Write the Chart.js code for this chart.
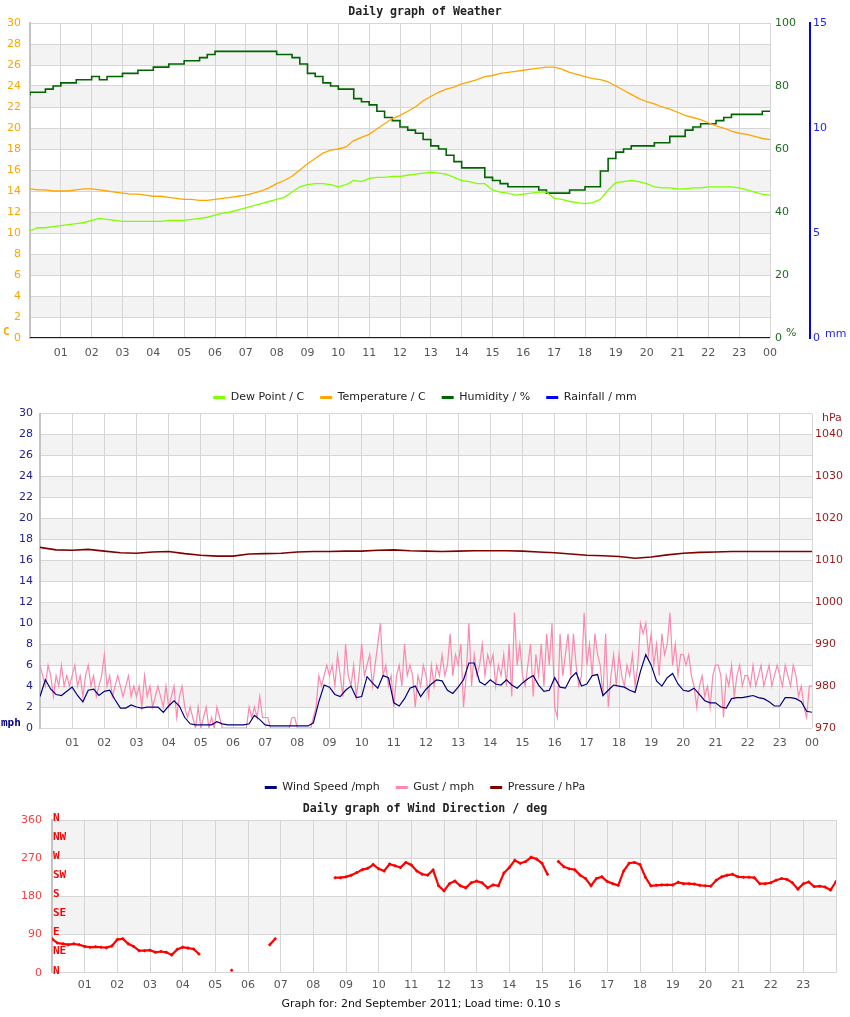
<!DOCTYPE html>
<html>
<head>
<meta charset="utf-8">
<script src="https://cdn.jsdelivr.net/npm/chart.js@4.4.0/dist/chart.umd.min.js"></script>
<style>
  body { margin: 0; background: #fff; }
  #wrap { position: relative; width: 850px; height: 1017px; overflow: hidden; }
  canvas { position: absolute; left: 0; }
</style>
</head>
<body>
<div id="wrap">
  <canvas id="weather" width="850" height="422" style="top:0px"></canvas>
  <canvas id="wind" width="850" height="412" style="top:400px"></canvas>
  <canvas id="dir" width="850" height="222" style="top:795px"></canvas>
</div>
<script>
// samples every 15 minutes, 00:00 .. 24:00
const weatherStep = 0.25;
const temperature = [
  14.2, 14.1, 14.1, 14.0, 14.0, 14.0, 14.1, 14.2, 14.2, 14.1, 14.0, 13.9,
  13.8, 13.7, 13.7, 13.6, 13.5, 13.5, 13.4, 13.3, 13.2, 13.2, 13.1, 13.1,
  13.2, 13.3, 13.4, 13.5, 13.6, 13.8, 14.0, 14.3, 14.7, 15.0, 15.4, 16.0,
  16.6, 17.1, 17.6, 17.9, 18.0, 18.2, 18.8, 19.1, 19.4, 19.9, 20.4, 20.9,
  21.2, 21.6, 22.0, 22.6, 23.0, 23.4, 23.7, 23.9, 24.2, 24.4, 24.6, 24.9,
  25.0, 25.2, 25.3, 25.4, 25.5, 25.6, 25.7, 25.8, 25.8, 25.6, 25.3, 25.1,
  24.9, 24.7, 24.6, 24.4, 24.0, 23.6, 23.2, 22.8, 22.5, 22.3, 22.0, 21.8,
  21.5, 21.2, 21.0, 20.8, 20.5, 20.2, 20.0, 19.7, 19.5, 19.4, 19.2, 19.0,
  18.9
];
const dewPoint = [
  10.2, 10.5, 10.5, 10.6, 10.7, 10.8, 10.9, 11.0, 11.2, 11.4, 11.3, 11.2,
  11.1, 11.1, 11.1, 11.1, 11.1, 11.1, 11.2, 11.2, 11.2, 11.3, 11.4, 11.5,
  11.7, 11.9, 12.0, 12.2, 12.4, 12.6, 12.8, 13.0, 13.2, 13.4, 13.9, 14.4,
  14.6, 14.7, 14.7, 14.6, 14.4, 14.6, 15.0, 14.9, 15.2, 15.3, 15.3, 15.4,
  15.4, 15.5, 15.6, 15.7, 15.8, 15.7, 15.6, 15.3, 15.0, 14.9, 14.7, 14.7,
  14.1, 13.9, 13.8, 13.6, 13.7, 13.8, 13.9, 13.9, 13.3, 13.2, 13.0, 12.9,
  12.8, 12.9, 13.2, 14.1, 14.8, 14.9, 15.0, 14.9, 14.7, 14.4, 14.3, 14.3,
  14.2, 14.2, 14.3, 14.3, 14.4, 14.4, 14.4, 14.4, 14.3, 14.1, 13.9, 13.7,
  13.6
];
const humidity = [
  77, 78, 78, 79, 80, 81, 81, 82, 82, 83, 82, 83,
  83, 84, 84, 85, 85, 86, 86, 87, 87, 88, 88, 89,
  90, 91, 91, 91, 91, 91, 91, 91, 91, 90, 90, 89,
  87, 84, 83, 81, 80, 79, 79, 76, 75, 74, 72, 70,
  69, 67, 66, 65, 63, 61, 60, 58, 56, 54, 54, 54,
  51, 50, 49, 48, 48, 48, 48, 47, 46, 46, 46, 47,
  47, 48, 48, 53, 57, 59, 60, 61, 61, 61, 62, 62,
  64, 64, 66, 67, 68, 68, 69, 70, 71, 71, 71, 71,
  72
];
const rainTimes = [0, 24];
const rainfall = [0, 0];

// wind speed every 10 minutes
const windStep = 1 / 6;
const windSpeed = [
  3.0, 4.6, 3.7, 3.2, 3.1, 3.5,  3.9, 3.1, 2.5, 3.6, 3.7, 3.1,
  3.5, 3.6, 2.7, 1.9, 1.9, 2.2,  2.0, 1.9, 2.0, 2.0, 2.0, 1.5,
  2.1, 2.6, 2.1, 1.0, 0.4, 0.3,  0.3, 0.3, 0.3, 0.6, 0.4, 0.3,
  0.3, 0.3, 0.3, 0.4, 1.2, 0.8,  0.3, 0.2, 0.2, 0.2, 0.2, 0.2,
  0.2, 0.2, 0.2, 0.5, 2.5, 4.1,  3.9, 3.2, 3.0, 3.6, 4.0, 2.9,
  3.0, 4.9, 4.3, 3.8, 5.0, 4.8,  2.4, 2.1, 2.8, 3.8, 4.0, 3.0,
  3.7, 4.2, 4.6, 4.5, 3.6, 3.3,  3.9, 4.6, 6.2, 6.2, 4.4, 4.1,
  4.6, 4.2, 4.1, 4.6, 4.1, 3.8,  4.3, 4.7, 5.0, 4.1, 3.5, 3.6,
  4.8, 3.9, 3.8, 4.8, 5.3, 4.0,  4.2, 5.0, 5.1, 3.1, 3.6, 4.1,
  4.0, 3.9, 3.6, 3.4, 5.4, 7.0,  6.0, 4.5, 4.0, 4.8, 5.2, 4.2,
  3.6, 3.5, 3.8, 3.2, 2.6, 2.4,  2.4, 2.0, 1.9, 2.8, 2.9, 2.9,
  3.0, 3.1, 2.9, 2.8, 2.5, 2.1,  2.1, 2.9, 2.9, 2.8, 2.5, 1.6,
  1.5
];
// gusts every 5 minutes
const gustStep = 1 / 12;
const gust = [
  6, 5, 4, 6, 5, 3, 5, 4, 6, 4, 5, 4,
  5, 6, 4, 5, 3, 5, 6, 4, 5, 3, 4, 5,
  7, 4, 5, 3, 4, 5, 4, 3, 4, 5, 3, 4,
  3, 4, 2, 5, 3, 4, 2, 3, 4, 3, 2, 4,
  2, 3, 4, 1, 3, 4, 2, 1, 2, 1, 0, 2,
  0, 1, 2, 0, 1, 0, 2, 1, 0, 0, 0, 0,
  0, 0, 0, 0, 0, 0, 2, 1, 2, 1, 3, 1,
  1, 1, 0, 0, 0, 0, 0, 0, 0, 0, 1, 1,
  0, 0, 0, 0, 0, 0, 1, 2, 5, 4, 5, 6,
  5, 6, 4, 7, 5, 3, 8, 5, 4, 6, 3, 5,
  8, 5, 6, 7, 4, 6, 8, 10, 5, 6, 4, 5,
  2, 5, 6, 4, 8, 5, 6, 5, 2, 5, 4, 6,
  5, 3, 6, 4, 6, 5, 7, 5, 6, 9, 5, 7,
  6, 8, 2, 5, 10, 4, 7, 5, 6, 8, 5, 7,
  6, 7, 4, 6, 5, 7, 4, 8, 3, 11, 6, 8,
  5, 4, 6, 8, 3, 7, 5, 8, 4, 9, 6, 10,
  2, 1, 9, 5, 7, 9, 5, 9, 6, 4, 5, 11,
  6, 8, 5, 9, 7, 6, 3, 9, 2, 5, 7, 4,
  7, 5, 4, 6, 5, 7, 4, 6, 10, 9, 10, 7,
  9, 6, 8, 5, 9, 7, 8, 11, 6, 8, 5, 7,
  7, 6, 7, 5, 4, 2, 4, 5, 3, 4, 2, 5,
  6, 6, 5, 1, 5, 4, 6, 3, 5, 6, 4, 5,
  5, 4, 6, 4, 5, 6, 4, 5, 6, 4, 5, 6,
  5, 4, 6, 5, 4, 6, 5, 3, 4, 2, 1, 4,
  4
];
// pressure every 30 minutes
const pressureStep = 0.5;
const pressure = [
  1013.1, 1012.5, 1012.4, 1012.6, 1012.2, 1011.8, 1011.7, 1012.0, 1012.1, 1011.6,
  1011.2, 1011.0, 1011.0, 1011.5, 1011.6, 1011.7, 1012.0, 1012.1, 1012.1, 1012.2,
  1012.2, 1012.4, 1012.5, 1012.3, 1012.2, 1012.1, 1012.2, 1012.3, 1012.3, 1012.3,
  1012.2, 1012.0, 1011.8, 1011.5, 1011.2, 1011.1, 1010.9, 1010.5, 1010.8, 1011.3,
  1011.7, 1011.9, 1012.0, 1012.1, 1012.1, 1012.1, 1012.1, 1012.1, 1012.1
];
// wind direction every 10 minutes (null = calm, no reading)
const dirStep = 1 / 6;
const windDir = [
  80, 70, 68, 66, 68, 66,  62, 60, 61, 60, 59, 63,
  78, 80, 68, 62, 52, 52,  53, 48, 50, 48, 42, 55,
  60, 58, 56, 44, null, null,  null, null, null, 6, null, null,
  null, null, null, null, 66, 80,  null, null, null, null, null, null,
  null, null, null, null, 224, 224,  226, 230, 236, 243, 246, 255,
  245, 240, 256, 252, 248, 260,  254, 240, 232, 230, 242, 205,
  193, 210, 216, 205, 200, 212,  216, 212, 200, 207, 205, 235,
  248, 265, 258, 262, 272, 268,  258, 232, null, 262, 250, 245,
  243, 230, 222, 205, 222, 226,  215, 210, 206, 240, 258, 260,
  255, 225, 205, 206, 207, 207,  207, 213, 210, 210, 209, 206,
  205, 204, 218, 226, 230, 232,  226, 225, 225, 224, 210, 210,
  212, 218, 222, 220, 212, 197,  210, 214, 203, 204, 202, 195,
  215
];
const compassLabels = ['N', 'NE', 'E', 'SE', 'S', 'SW', 'W', 'NW', 'N'];

const GRID = '#d6d6d6';
const BAND = '#f3f3f3';
const FONT = 'DejaVu Sans';

function series(values, step) {
  return values.map((v, i) => ({ x: i * step, y: v }));
}

function hourTick(v) {
  if (v <= 0 || v > 24) return '';
  return String(v % 24).padStart(2, '0');
}

// alternating grey bands behind the grid
const bandPlugin = {
  id: 'bands',
  beforeDraw(chart, args, opts) {
    const s = chart.scales[opts.scale];
    const { left, right } = chart.chartArea;
    const ctx = chart.ctx;
    ctx.save();
    ctx.fillStyle = BAND;
    for (let v = opts.from; v < s.max; v += opts.step * 2) {
      const y0 = s.getPixelForValue(v);
      const y1 = s.getPixelForValue(Math.min(v + opts.step, s.max));
      ctx.fillRect(left, y1, right - left, y0 - y1);
    }
    ctx.restore();
  }
};

// loose texts: titles, unit labels, footer
const textPlugin = {
  id: 'texts',
  afterDraw(chart, args, opts) {
    const ctx = chart.ctx;
    (opts.items || []).forEach(t => {
      ctx.save();
      ctx.font = t.font;
      ctx.fillStyle = t.color;
      ctx.textAlign = t.align || 'left';
      ctx.textBaseline = 'middle';
      ctx.fillText(t.text, t.x, t.y);
      ctx.restore();
    });
  }
};

// compass points down the left edge of the direction chart
const compassPlugin = {
  id: 'compass',
  afterDraw(chart) {
    const s = chart.scales.y;
    const ctx = chart.ctx;
    ctx.save();
    ctx.font = 'bold 11px "DejaVu Sans Mono"';
    ctx.fillStyle = '#ff0000';
    ctx.textBaseline = 'middle';
    compassLabels.forEach((lab, i) => {
      ctx.fillText(lab, chart.chartArea.left + 1, s.getPixelForValue(i * 45) - 2);
    });
    ctx.restore();
  }
};

function legendOpts() {
  return {
    position: 'bottom',
    labels: {
      boxWidth: 12, boxHeight: 3, padding: 16, color: '#222',
      font: { family: FONT, size: 11 },
      generateLabels: chart => Chart.defaults.plugins.legend.labels.generateLabels(chart)
        .map(l => Object.assign(l, { fillStyle: l.strokeStyle, lineWidth: 0 }))
    }
  };
}

function xAxis(height, pad, lastLabel) {
  return {
    type: 'linear', min: 0, max: 24,
    afterFit: s => { s.height = height; },
    grid: { color: GRID, drawTicks: false },
    border: { display: false },
    ticks: {
      stepSize: 1, autoSkip: false, maxRotation: 0, padding: pad,
      color: '#555', font: { family: FONT, size: 11 },
      callback: v => (lastLabel || v < 24) ? hourTick(v) : ''
    }
  };
}

function sideAxis(pos, width, min, max, step, color, pad, extra) {
  return Object.assign({
    type: 'linear', position: pos, min: min, max: max,
    afterFit: s => { s.width = width; },
    grid: { display: false, drawTicks: false },
    border: { display: false },
    ticks: { stepSize: step, padding: pad, color: color, font: { family: FONT, size: 11 },
      includeBounds: false, callback: v => String(v) }
  }, extra || {});
}

const common = { responsive: false, animation: false, devicePixelRatio: 1 };
const line = { pointRadius: 0, tension: 0 };

// ---------- weather ----------
new Chart(document.getElementById('weather'), {
  type: 'line',
  data: {
    datasets: [
      Object.assign({ label: 'Dew Point / C', data: series(dewPoint, weatherStep), yAxisID: 'y',
        borderColor: '#80ff00', borderWidth: 1.3 }, line),
      Object.assign({ label: 'Temperature / C', data: series(temperature, weatherStep), yAxisID: 'y',
        borderColor: '#ffa500', borderWidth: 1.3 }, line),
      Object.assign({ label: 'Humidity / %', data: series(humidity, weatherStep), yAxisID: 'yHum',
        borderColor: '#006400', borderWidth: 1.6, stepped: 'after' }, line),
      Object.assign({ label: 'Rainfall / mm', data: rainTimes.map((t, i) => ({ x: t, y: rainfall[i] })),
        yAxisID: 'yRain', borderColor: '#0000ff', borderWidth: 2 }, line)
    ]
  },
  options: Object.assign({}, common, {
    layout: { padding: { top: 23, bottom: 9, left: 0, right: 0 } },
    scales: {
      x: xAxis(38, 9, true),
      y: {
        type: 'linear', position: 'left', min: 0, max: 30,
        afterFit: s => { s.width = 30; },
        grid: { color: GRID, drawTicks: false },
        border: { display: true, color: '#c4c4c4', width: 2 },
        ticks: { stepSize: 2, padding: 9, color: '#ffa500', font: { family: FONT, size: 11 } }
      },
      yHum: sideAxis('right', 40, 0, 100, 20, '#1e6b1e', 5),
      yRain: sideAxis('right', 40, 0, 15, 5, '#2222ff', 3,
        { weight: 1, border: { display: true, color: '#0000ff', width: 2 } })
    },
    plugins: {
      legend: legendOpts(),
      tooltip: { enabled: false },
      bands: { scale: 'y', from: 2, step: 2 },
      texts: { items: [
        { text: 'Daily graph of Weather', x: 425, y: 12, align: 'center', color: '#222', font: 'bold 11.6px "DejaVu Sans Mono"' },
        { text: 'C', x: 3, y: 332, color: '#ffa500', font: 'bold 11px "DejaVu Sans Mono"' },
        { text: '%', x: 786, y: 333, color: '#1e6b1e', font: '11px ' + FONT },
        { text: 'mm', x: 825, y: 334, color: '#2222ff', font: '11px ' + FONT }
      ] }
    }
  }),
  plugins: [bandPlugin, textPlugin]
});

// ---------- wind & pressure ----------
new Chart(document.getElementById('wind'), {
  type: 'line',
  data: {
    datasets: [
      Object.assign({ label: 'Wind Speed /mph', data: series(windSpeed, windStep), yAxisID: 'y',
        borderColor: '#000080', borderWidth: 1.2 }, line),
      Object.assign({ label: 'Gust / mph', data: series(gust, gustStep), yAxisID: 'y',
        borderColor: '#ff88aa', borderWidth: 1.2 }, line),
      Object.assign({ label: 'Pressure / hPa', data: series(pressure, pressureStep), yAxisID: 'yPress',
        borderColor: '#800000', borderWidth: 1.6 }, line)
    ]
  },
  options: Object.assign({}, common, {
    layout: { padding: { top: 13, bottom: 9, left: 0, right: 0 } },
    scales: {
      x: xAxis(38, 9, true),
      y: {
        type: 'linear', position: 'left', min: 0, max: 30,
        afterFit: s => { s.width = 40; },
        grid: { color: GRID, drawTicks: false },
        border: { display: true, color: '#c4c4c4', width: 2 },
        ticks: { stepSize: 2, padding: 7, color: '#22228c', font: { family: FONT, size: 11 } }
      },
      yPress: sideAxis('right', 38, 970, 1045, 10, '#9b1b1b', 3)
    },
    plugins: {
      legend: legendOpts(),
      tooltip: { enabled: false },
      bands: { scale: 'y', from: 2, step: 2 },
      texts: { items: [
        { text: 'mph', x: 1, y: 323, color: '#000080', font: 'bold 11px "DejaVu Sans Mono"' },
        { text: 'hPa', x: 822, y: 18, color: '#9b1b1b', font: '11px ' + FONT }
      ] }
    }
  }),
  plugins: [bandPlugin, textPlugin]
});

// ---------- wind direction ----------
new Chart(document.getElementById('dir'), {
  type: 'line',
  data: {
    datasets: [{
      label: 'Wind Direction / deg', data: series(windDir, dirStep),
      borderColor: '#ff0000', backgroundColor: '#ff0000', borderWidth: 2.2,
      pointRadius: 1.5, pointStyle: 'cross', pointBorderWidth: 1.5, tension: 0, spanGaps: false
    }]
  },
  options: Object.assign({}, common, {
    layout: { padding: { top: 25, bottom: 0, left: 0, right: 14 } },
    scales: {
      x: xAxis(44.3, 6, false),
      y: {
        type: 'linear', position: 'left', min: 0, max: 360,
        afterFit: s => { s.width = 52; },
        grid: { color: GRID, drawTicks: false },
        border: { display: true, color: '#c4c4c4', width: 2 },
        ticks: { stepSize: 90, padding: 10, color: '#ff3b3b', font: { family: FONT, size: 11 } }
      }
    },
    plugins: {
      legend: { display: false },
      tooltip: { enabled: false },
      bands: { scale: 'y', from: 90, step: 90 },
      texts: { items: [
        { text: 'Daily graph of Wind Direction / deg', x: 425, y: 14, align: 'center', color: '#222', font: 'bold 11.6px "DejaVu Sans Mono"' },
        { text: 'Graph for: 2nd September 2011; Load time: 0.10 s', x: 421, y: 209, align: 'center', color: '#111', font: '11px ' + FONT }
      ] }
    }
  }),
  plugins: [bandPlugin, textPlugin, compassPlugin]
});
</script>
</body>
</html>
